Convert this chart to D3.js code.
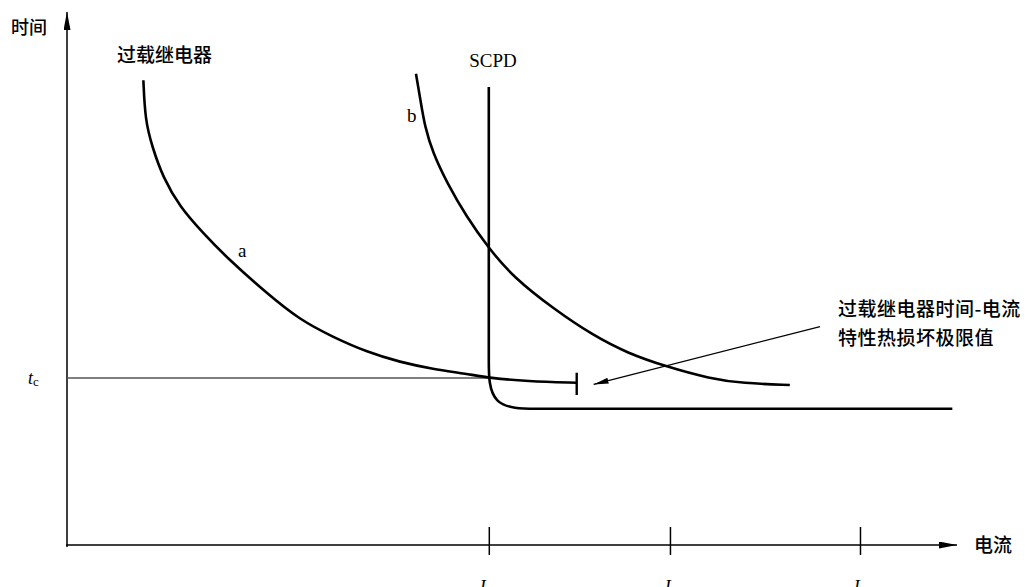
<!DOCTYPE html>
<html>
<head>
<meta charset="utf-8">
<script src="https://cdn.jsdelivr.net/npm/d3@7"></script>
<style>
  body { margin: 0; background: #fff; }
  .cjk { font-family: "Noto Sans CJK SC", sans-serif; font-weight: 500; }
  .ser { font-family: "Liberation Serif", "DejaVu Serif", serif; }
</style>
</head>
<body>
<div id="chart"></div>
<script>
// data (arbitrary units: current 0..100, time 0..100)
const curveA = [[8.6, 87.7], [8.8, 80.2], [9.6, 75.1], [10.8, 69.4], [12.7, 63.8], [15.3, 58.9],
  [18.0, 54.2], [22.5, 47.5], [26.2, 42.5], [30.0, 39.2], [33.8, 36.4], [37.5, 34.5],
  [41.2, 33.2], [45.0, 32.3], [47.6, 31.5], [51.8, 30.9], [57.4, 30.6]];
const curveB = [[39.3, 88.9], [39.8, 84.0], [40.3, 78.9], [41.2, 74.0], [42.8, 68.3], [45.0, 61.9],
  [47.4, 56.2], [50.2, 50.6], [55.0, 44.3], [59.2, 39.6], [63.1, 36.2], [67.6, 33.6],
  [72.4, 31.4], [76.1, 30.5], [81.4, 30.2]];
// SCPD: vertical drop, rounded knee, then flat
const scpd = [[47.5, 86.4], [47.5, 60.0], [47.5, 40.6], [47.5, 35.3], [47.5, 25.7], [53.3, 25.7],
  [56.1, 25.7], [80.0, 25.7], [99.7, 25.7]];
const tripBar = [57.4, 28.3, 32.5];
const tcValue = 31.5;
const tickValues = [47.5, 67.9, 89.3];
const tickSubs = ['co', 'r', 'q'];
const noteArrow = [[84.8, 41.2], [59.3, 30.3]];
const noteLines = ['过载继电器时间-电流', '特性热损坏极限值'];

const width = 1025, height = 587;

const svg = d3.select('#chart').append('svg')
  .attr('width', width)
  .attr('height', height);

const x = d3.scaleLinear().domain([0, 100]).range([67, 955]);
const y = d3.scaleLinear().domain([0, 100]).range([545, 15]);

const defs = svg.append('defs');
defs.append('marker')
  .attr('id', 'axisHead')
  .attr('viewBox', '0 0 18 7')
  .attr('refX', 18).attr('refY', 3.5)
  .attr('markerWidth', 18).attr('markerHeight', 7)
  .attr('markerUnits', 'userSpaceOnUse')
  .attr('orient', 'auto')
  .append('path').attr('d', 'M0,0 L18,3.5 L0,7 Z').attr('fill', '#000');
defs.append('marker')
  .attr('id', 'noteHead')
  .attr('viewBox', '0 0 15 6')
  .attr('refX', 15).attr('refY', 3)
  .attr('markerWidth', 15).attr('markerHeight', 6)
  .attr('markerUnits', 'userSpaceOnUse')
  .attr('orient', 'auto')
  .append('path').attr('d', 'M0,0 L15,3 L0,6 Z').attr('fill', '#000');

// axes
svg.append('line')
  .attr('x1', x(0)).attr('y1', y(0) + 2)
  .attr('x2', x(0)).attr('y2', 12)
  .attr('stroke', '#000').attr('stroke-width', 1.5)
  .attr('marker-end', 'url(#axisHead)');
svg.append('line')
  .attr('x1', x(0) - 1).attr('y1', y(0))
  .attr('x2', 957).attr('y2', y(0))
  .attr('stroke', '#000').attr('stroke-width', 1.5)
  .attr('marker-end', 'url(#axisHead)');

const xAxis = svg.append('g')
  .attr('transform', `translate(0,${y(0)})`)
  .call(d3.axisBottom(x).tickValues(tickValues).tickSize(10).tickFormat(''));
xAxis.select('.domain').remove();
xAxis.selectAll('.tick line')
  .attr('y1', -18)
  .attr('stroke', '#000')
  .attr('stroke-width', 1.5);

// tick labels sit at the very bottom edge, partly cut as in the original page
tickValues.forEach((v, i) => {
  const t = svg.append('text')
    .attr('class', 'ser')
    .attr('x', x(v))
    .attr('y', 593)
    .attr('text-anchor', 'middle')
    .attr('font-size', 18);
  t.append('tspan').attr('font-style', 'italic').text('I');
  t.append('tspan').attr('font-size', 13).attr('dy', 2).text(tickSubs[i]);
});

// t_c line
svg.append('line')
  .attr('x1', x(0)).attr('y1', y(tcValue))
  .attr('x2', x(scpd[0][0])).attr('y2', y(tcValue))
  .attr('stroke', '#555').attr('stroke-width', 1.5);

const tc = svg.append('text')
  .attr('class', 'ser')
  .attr('x', 28)
  .attr('y', 384)
  .attr('font-size', 18);
tc.append('tspan').attr('font-style', 'italic').text('t');
tc.append('tspan').attr('font-size', 13).attr('dy', 2).text('c');

// curves
const line = d3.line().x(d => x(d[0])).y(d => y(d[1])).curve(d3.curveBasis);
const lineLin = d3.line().x(d => x(d[0])).y(d => y(d[1])).curve(d3.curveLinear);

[curveA, curveB, scpd].forEach(c => {
  svg.append('path')
    .attr('d', line(c))
    .attr('fill', 'none')
    .attr('stroke', '#000')
    .attr('stroke-width', 2.6);
});

svg.append('line')
  .attr('x1', x(tripBar[0])).attr('y1', y(tripBar[1]))
  .attr('x2', x(tripBar[0])).attr('y2', y(tripBar[2]))
  .attr('stroke', '#000').attr('stroke-width', 2.4);

// annotation arrow
svg.append('path')
  .attr('d', lineLin(noteArrow))
  .attr('fill', 'none')
  .attr('stroke', '#000')
  .attr('stroke-width', 1.2)
  .attr('marker-end', 'url(#noteHead)');

// labels
svg.append('text').attr('class', 'cjk').attr('x', 11).attr('y', 34)
  .attr('font-size', 18).text('时间');
svg.append('text').attr('class', 'cjk').attr('x', 117).attr('y', 62)
  .attr('font-size', 19).text('过载继电器');
svg.append('text').attr('class', 'cjk').attr('x', 974).attr('y', 552)
  .attr('font-size', 19).text('电流');
noteLines.forEach((s, i) => {
  svg.append('text').attr('class', 'cjk')
    .attr('x', 838).attr('y', 316 + i * 29)
    .attr('font-size', 19)
    .attr('letter-spacing', 0.5)
    .text(s);
});
svg.append('text').attr('class', 'ser').attr('x', 493).attr('y', 67)
  .attr('text-anchor', 'middle').attr('font-size', 19).text('SCPD');
svg.append('text').attr('class', 'ser').attr('x', 407).attr('y', 122)
  .attr('font-size', 19).text('b');
svg.append('text').attr('class', 'ser').attr('x', 238).attr('y', 257)
  .attr('font-size', 19).text('a');
</script>
</body>
</html>
